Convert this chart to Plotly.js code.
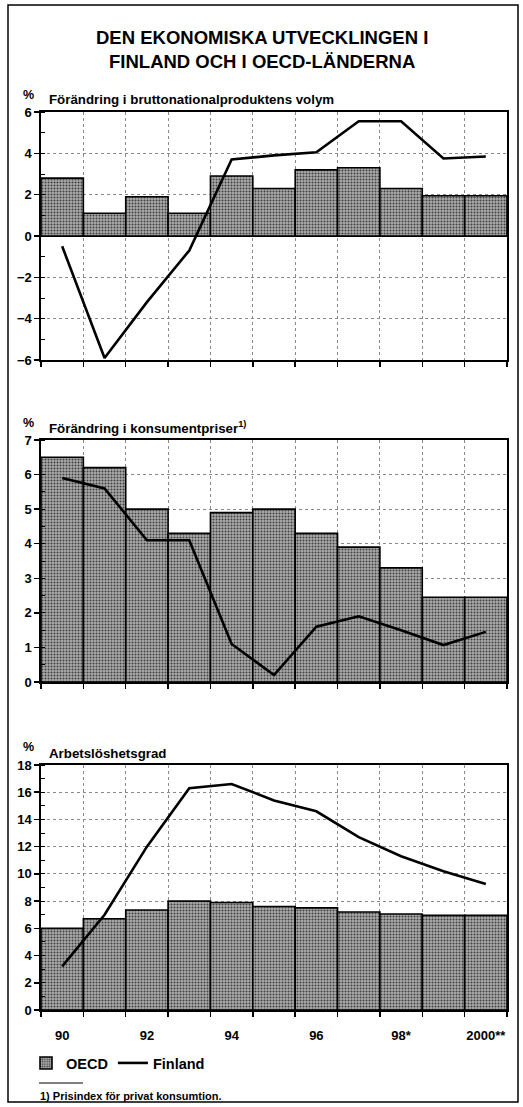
<!DOCTYPE html>
<html><head><meta charset="utf-8">
<script src="https://cdn.plot.ly/plotly-3.0.1.min.js"></script>
<style>body{margin:0;background:#fff}#c{width:523px;height:1107px}</style>
</head><body><div id="c"></div><script>
const years=[1990,1991,1992,1993,1994,1995,1996,1997,1998,1999,2000];
const oecdGdp=[2.8,1.1,1.9,1.1,2.9,2.3,3.2,3.3,2.3,1.95,1.95];
const finGdp=[-0.5,-5.9,-3.2,-0.7,3.7,3.9,4.05,5.55,5.55,3.75,3.85];
const oecdCpi=[6.5,6.2,5.0,4.3,4.9,5.0,4.3,3.9,3.3,2.45,2.45];
const finCpi=[5.9,5.6,4.1,4.1,1.1,0.2,1.6,1.9,1.5,1.07,1.45];
const oecdUnemp=[6.0,6.7,7.35,8.0,7.9,7.6,7.5,7.2,7.05,6.95,6.95];
const finUnemp=[3.2,7.0,12.0,16.3,16.6,15.4,14.6,12.7,11.3,10.2,9.25];
const tickYears=[1990,1992,1994,1996,1998,2000];
const tickText=['90','92','94','96','98*','2000**'];
const seriesNames=['OECD','Finland'];
const titleText='DEN EKONOMISKA UTVECKLINGEN I<br>FINLAND OCH I OECD-LÄNDERNA';
const subtitles=['Förändring i bruttonationalproduktens volym','Förändring i konsumentpriser<sup>1)</sup>','Arbetslöshetsgrad'];
const footnote='1) Prisindex för privat konsumtion.';

const W=523,H=1107;
const px=x=>x/W, py=y=>1-y/H;
const F='Liberation Sans, Arial, sans-serif';
const bold=(s)=>({family:F,size:s,color:'#000',weight:700});

const barMarker={color:'#9c9c9c',pattern:{shape:'.',fgcolor:'#404040',bgcolor:'#ababab',size:3,solidity:0.35},line:{color:'#000',width:1.6}};
const lineStyle={color:'#000',width:2.6};

const panels=[
 {bars:oecdGdp,line:finGdp,top:112,bot:360,range:[-6,6],dtick:2,minor:1},
 {bars:oecdCpi,line:finCpi,top:440,bot:682,range:[0,7],dtick:1,minor:0.5},
 {bars:oecdUnemp,line:finUnemp,top:765,bot:1010,range:[0,18],dtick:2,minor:1}
];
const data=[];const layout={width:W,height:H,margin:{l:0,r:0,t:0,b:0},paper_bgcolor:'#fff',plot_bgcolor:'#fff',
 bargap:0,showlegend:true,font:{family:F},
 legend:{orientation:'h',x:px(26),y:py(1063),xanchor:'left',yanchor:'middle',font:bold(14.5),itemwidth:30,bgcolor:'rgba(0,0,0,0)'},
 annotations:[],shapes:[]};
panels.forEach((p,i)=>{
 const n=i===0?'':String(i+1);
 const last=i===2;
 data.push({type:'bar',x:years,y:p.bars,width:1,xaxis:'x'+n,yaxis:'y'+n,marker:barMarker,name:seriesNames[0],showlegend:last,hoverinfo:'skip'});
 data.push({type:'scatter',mode:'lines',x:years,y:p.line,xaxis:'x'+n,yaxis:'y'+n,line:lineStyle,name:seriesNames[1],showlegend:last,hoverinfo:'skip'});
 const xa={domain:[px(41),px(507)],anchor:'y'+n,range:[1989.5,2000.5],
  showline:true,mirror:true,linecolor:'#000',linewidth:1.6,showgrid:false,zeroline:false,
  ticks:'',tickfont:bold(13),
  minor:{tick0:1989.5,dtick:1,showgrid:true,griddash:'dot',gridcolor:'#8a8a8a',gridwidth:1,ticks:'outside',ticklen:5,tickcolor:'#000',tickwidth:1.5}};
 if(last){xa.tickvals=tickYears;xa.ticktext=tickText;xa.ticklabelstandoff=13;}
 else{xa.showticklabels=false;xa.tickmode='linear';xa.tick0=1990;xa.dtick=2;}
 layout['xaxis'+n]=xa;
 layout['yaxis'+n]={domain:[py(p.bot),py(p.top)],anchor:'x'+n,range:p.range,dtick:p.dtick,
  showline:true,mirror:true,linecolor:'#000',linewidth:1.6,
  showgrid:true,griddash:'dot',gridcolor:'#8a8a8a',gridwidth:1,
  zeroline:i===0,zerolinecolor:'#000',zerolinewidth:1.6,
  ticks:'outside',ticklen:5,tickwidth:1.5,tickcolor:'#000',tickfont:bold(13),
  minor:{dtick:p.minor,ticks:'inside',ticklen:4,tickcolor:'#000',tickwidth:1,showgrid:false}};
 layout.annotations.push({xref:'paper',yref:'paper',x:px(28),y:py([95,423,747][i]),text:'%',showarrow:false,font:bold(12.5),xanchor:'center',yanchor:'middle'});
 layout.annotations.push({xref:'paper',yref:'paper',x:px(47),y:py([100,428,753][i]),text:subtitles[i],showarrow:false,font:bold(13.3),xanchor:'left',yanchor:'middle'});
});
layout.annotations.push({xref:'paper',yref:'paper',x:px(262),y:py(50),text:titleText,showarrow:false,font:bold(18.5),xanchor:'center',yanchor:'middle'});
layout.annotations.push({xref:'paper',yref:'paper',x:px(38),y:py(1096),text:footnote,showarrow:false,font:bold(11),xanchor:'left',yanchor:'middle'});
layout.shapes.push({type:'line',xref:'paper',yref:'paper',x0:px(39),x1:px(83),y0:py(1083),y1:py(1083),line:{color:'#000',width:1}});
layout.shapes.push({type:'rect',xref:'paper',yref:'paper',x0:px(8),x1:px(518),y0:py(1102),y1:py(5),line:{color:'#000',width:1.5}});
Plotly.newPlot('c',data,layout,{staticPlot:true});
</script></body></html>
